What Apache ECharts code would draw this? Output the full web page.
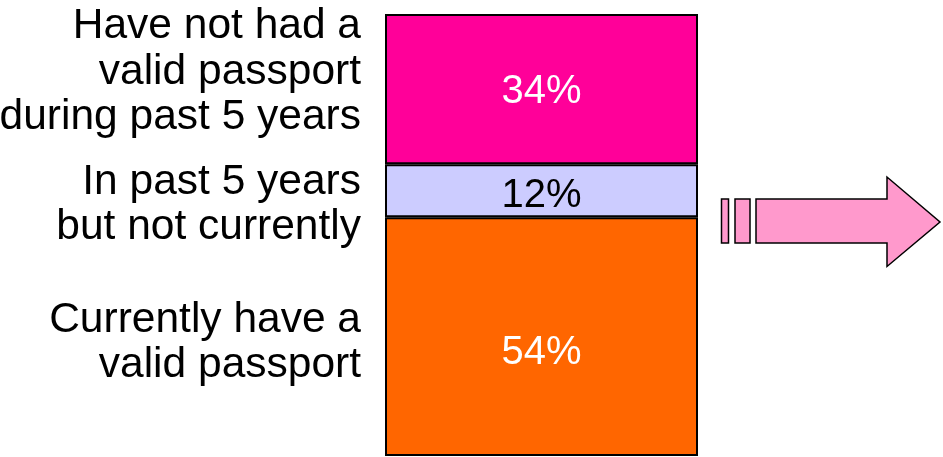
<!DOCTYPE html>
<html>
<head>
<meta charset="utf-8">
<script src="https://cdn.jsdelivr.net/npm/echarts@6/dist/echarts.min.js"></script>
<style>
  html, body { margin: 0; padding: 0; background: #fff; }
  #main { width: 943px; height: 457px; }
</style>
</head>
<body>
<div id="main"></div>
<script>
// data (stack order: bottom -> top)
var categories = ['Passport status'];
var segNames = [
  'Currently have a\nvalid passport',
  'In past 5 years\nbut not currently',
  'Have not had a\nvalid passport\nduring past 5 years'
];
var segValues = [54, 12, 34];

// styles
var segColors = ['#FF6600', '#CCCCFF', '#FF0099'];
var pctColors = ['#fff', '#000', '#fff'];
var pctOffsets = [[0, 16], [0, 5], [0, 3]];
var nameOffsets = [[0, 6], [0, 14], [0, -17]];
var FONT = "Arial, 'Liberation Sans', sans-serif";

var myChart = echarts.init(document.getElementById('main'));

var series = [];
// visible stacked bar
segValues.forEach(function (v, i) {
  series.push({
    name: segNames[i],
    type: 'bar',
    stack: 'bar',
    data: [v],
    barWidth: 313,
    barGap: '-100%',
    itemStyle: {
      color: segColors[i],
      borderColor: '#000',
      borderWidth: 2
    },
    label: {
      show: true,
      position: 'inside',
      formatter: '{c}%',
      color: pctColors[i],
      fontSize: 40,
      fontFamily: FONT,
      offset: pctOffsets[i]
    },
    silent: true
  });
});
// invisible copy, only to hang the category names on the left side
segValues.forEach(function (v, i) {
  series.push({
    name: 'lbl' + i,
    type: 'bar',
    stack: 'names',
    data: [v],
    barWidth: 313,
    barGap: '-100%',
    z: 1,
    itemStyle: { color: 'rgba(0,0,0,0)' },
    label: {
      show: true,
      position: 'left',
      distance: 24,
      align: 'right',
      formatter: segNames[i],
      color: '#000',
      fontSize: 42.5,
      lineHeight: 45.5,
      fontFamily: FONT,
      offset: nameOffsets[i]
    },
    silent: true
  });
});

var option = {
  animation: false,
  grid: { left: 385, top: 14, width: 313, bottom: 1 },
  xAxis: {
    type: 'category',
    data: categories,
    show: false
  },
  yAxis: {
    type: 'value',
    min: 0,
    max: 100,
    show: false
  },
  series: series,
  // the arrow to the right of the bar
  graphic: [
    {
      type: 'rect',
      shape: { x: 721.5, y: 199, width: 7, height: 44 },
      style: { fill: '#FF99CC', stroke: '#000', lineWidth: 1.5 }
    },
    {
      type: 'rect',
      shape: { x: 735, y: 199, width: 15, height: 44 },
      style: { fill: '#FF99CC', stroke: '#000', lineWidth: 1.5 }
    },
    {
      type: 'polygon',
      shape: {
        points: [[756, 199], [887, 199], [887, 177], [940, 222],
                 [887, 266.5], [887, 243], [756, 243]]
      },
      style: { fill: '#FF99CC', stroke: '#000', lineWidth: 1.5 }
    }
  ]
};

myChart.setOption(option, true);
</script>
</body>
</html>
